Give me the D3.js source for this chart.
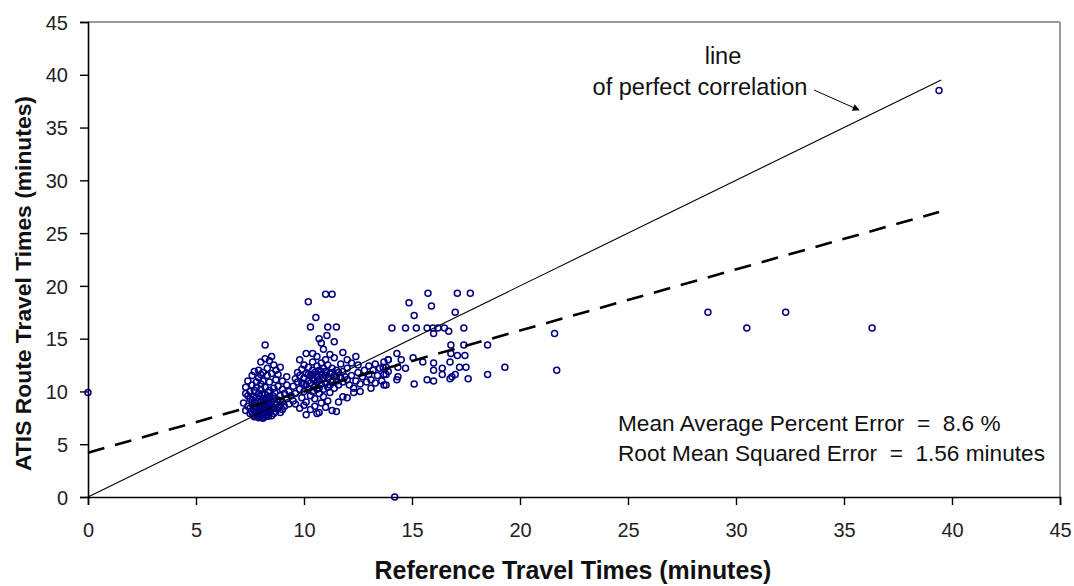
<!DOCTYPE html>
<html><head><meta charset="utf-8">
<script src="https://cdn.jsdelivr.net/npm/d3@7"></script>
<style>
html,body{margin:0;padding:0;background:#fff;}
svg{display:block;}
text{font-family:"Liberation Sans",Arial,sans-serif;}
</style></head>
<body>
<svg id="chart" width="1074" height="586"></svg>
<script>
// ---- data ----
const xTicks = [0,5,10,15,20,25,30,35,40,45];
const yTicks = [0,5,10,15,20,25,30,35,40,45];
const xTitle = "Reference Travel Times (minutes)";
const yTitle = "ATIS Route Travel Times (minutes)";
const perfectLine = [[0,0],[39.5,39.5]];
const fitLine = [[0,4.2],[39.4,27.0]];
const statLines = ["Mean Average Percent Error  =  8.6 %", "Root Mean Squared Error  =  1.56 minutes"];
const annotLines = ["line", "of perfect correlation"];

// cluster around 7-9.5 minutes
const clusterA = [
[7.3,8.2],[7.4,8.6],[7.5,7.9],[7.5,8.4],[7.6,8.0],[7.6,8.8],[7.6,9.2],[7.7,7.6],[7.7,8.3],[7.7,9.0],
[7.8,7.8],[7.8,8.5],[7.8,9.4],[7.9,7.5],[7.9,8.1],[7.9,8.7],[7.9,9.8],[8.0,7.7],[8.0,8.3],[8.0,9.0],
[8.0,10.2],[8.1,7.9],[8.1,8.6],[8.1,9.3],[8.2,7.6],[8.2,8.2],[8.2,8.9],[8.2,9.7],[8.3,7.8],[8.3,8.4],
[8.3,9.1],[8.4,8.0],[8.4,8.7],[8.4,9.5],[8.5,7.7],[8.5,8.3],[8.5,9.0],[8.6,8.5],[8.6,9.3],[8.7,8.1],
[8.7,8.8],[8.8,8.4],[8.8,9.2],[8.9,8.0],[8.9,8.7],[9.0,8.3],[9.0,9.0],[9.1,8.6],[9.2,9.3],[7.4,9.6],
[7.5,10.0],[7.3,10.4],[7.6,10.6],[7.7,10.1],[7.8,10.9],[7.9,11.3],[8.0,10.7],[8.1,11.0],[8.1,11.8],[8.2,10.4],
[8.3,11.5],[8.3,12.2],[8.4,10.1],[8.4,10.9],[8.5,11.7],[8.6,10.3],[8.6,12.5],[8.7,11.1],[8.8,10.5],[8.8,11.6],
[8.9,9.6],[9.0,10.2],[9.0,11.0],[9.1,9.8],[9.2,10.6],[9.3,10.0],[7.9,12.0],[8.0,12.8],[8.2,13.1],[8.4,12.9],
[8.2,14.4],[7.2,8.9],[7.4,11.0],[7.6,11.5],[8.5,13.3],[7.75,8.05],[7.85,8.25],[7.95,7.85],[8.05,8.15],[8.15,8.45],
[8.25,7.95],[7.85,7.65],[8.05,7.55],[8.35,7.65],[7.65,7.75],[8.1,7.45],[7.95,8.55],[8.25,8.65],[7.7,8.6],[8.45,8.15],
[8.6,7.9],[8.9,9.1],[9.3,8.8],[7.5,9.3],[7.3,9.8],[8.7,12.0],[8.0,11.6],[7.7,11.9],[8.9,12.3],[9.2,11.4],
[7.8,8.15],[8.0,7.95],[8.2,8.05],[7.9,8.35],[8.1,8.25],[8.3,8.15],[7.7,8.45],[8.05,8.75],[8.35,8.85],[7.85,9.05],
[8.15,9.15],[7.65,9.45],[8.45,9.25],[7.95,9.55],[8.25,9.4],[8.55,9.6],[8.65,9.9],[8.35,9.9],[8.05,9.75],[7.8,10.4]
];
// cluster around 9.5-12 minutes
const clusterB = [
[9.5,10.5],[9.6,11.2],[9.6,9.8],[9.7,10.9],[9.7,11.8],[9.8,10.2],[9.8,11.5],[9.9,9.4],[9.9,10.8],[9.9,12.1],
[10.0,10.0],[10.0,11.3],[10.0,12.5],[10.1,9.0],[10.1,10.6],[10.1,11.7],[10.2,10.2],[10.2,11.0],[10.2,12.3],[10.3,9.6],
[10.3,10.8],[10.3,11.5],[10.4,10.0],[10.4,11.2],[10.4,12.0],[10.4,12.8],[10.5,9.3],[10.5,10.5],[10.5,11.8],[10.6,10.9],
[10.6,11.4],[10.6,12.4],[10.7,9.8],[10.7,10.3],[10.7,11.1],[10.7,12.0],[10.8,10.7],[10.8,11.6],[10.8,12.7],[10.9,9.5],
[10.9,10.2],[10.9,11.3],[10.9,12.2],[11.0,10.8],[11.0,11.9],[11.0,13.0],[11.1,10.4],[11.1,11.2],[11.1,12.5],[11.2,9.9],
[11.2,11.7],[11.3,10.9],[11.3,12.2],[11.4,10.3],[11.4,11.5],[11.4,13.2],[11.5,11.0],[11.5,12.0],[11.6,10.6],[11.6,11.8],
[11.7,11.3],[11.7,12.6],[11.8,10.9],[11.8,11.9],[11.9,11.4],[12.0,11.1],[12.0,12.2],
[9.6,8.8],[9.8,8.4],[10.0,8.7],[10.1,7.8],[10.3,8.3],[10.5,8.6],[10.6,7.9],[10.7,8.0],[10.8,8.9],[11.0,8.5],
[11.1,9.1],[11.3,8.2],[11.5,8.1],[11.6,9.0],[11.8,9.5],[9.4,9.6],[9.5,9.1],
[10.1,13.6],[10.4,13.6],[11.8,13.7],[12.4,13.3],[12.0,13.0],[10.3,16.1],[11.1,16.1],[11.5,16.1],[11.06,15.3],[10.8,14.6],
[11.4,14.7],[10.7,15.0],[10.55,17.0],[10.2,18.5],[11.0,19.2],[11.3,19.2],[10.6,13.3],[11.2,13.5],[9.8,13.0],[10.9,14.0],
[10.2,11.6],[10.5,11.1],[11.0,11.5],[11.2,10.6],[10.6,10.2],[10.0,10.7],[11.3,11.8],[10.4,11.6],[10.8,11.9],[11.5,11.4]
];
// cluster around 12-14 minutes
const clusterC = [
[12.1,10.6],[12.2,11.5],[12.3,10.3],[12.4,11.0],[12.5,11.8],[12.6,10.7],[12.7,11.4],[12.8,12.0],[12.9,10.9],[13.0,11.6],
[13.0,12.4],[13.1,11.1],[13.2,12.0],[13.3,10.8],[13.3,12.6],[13.4,11.5],[13.5,12.2],[13.6,11.0],[13.7,12.8],[13.7,11.6],
[13.8,10.6],[13.8,12.3],[13.9,11.9],[13.9,13.0],[12.0,9.4],[12.3,9.9],[12.6,10.0],[13.1,10.3],[12.5,12.5],[12.2,12.7]
];
// 14-20 minutes
const clusterD = [
[15.74,19.3],[17.1,19.3],[17.7,19.3],[14.86,18.4],[15.9,18.1],[15.1,17.2],[17.0,17.5],[14.07,16.0],[14.7,16.0],[15.2,16.0],
[15.7,16.0],[15.97,16.0],[16.2,16.0],[16.5,16.0],[17.4,16.0],[16.0,15.5],[16.7,15.7],[16.8,14.4],[17.4,14.4],[18.5,14.4],
[14.3,13.6],[16.8,13.6],[17.1,13.4],[17.45,13.4],[13.9,13.0],[14.5,13.0],[15.05,13.2],[15.5,12.8],[16.0,12.7],[16.76,12.8],
[13.66,12.3],[14.35,12.3],[14.7,12.2],[16.0,12.0],[16.4,12.2],[17.2,12.3],[17.5,12.3],[19.3,12.3],[13.8,11.6],[14.35,11.4],
[15.7,11.1],[16.0,11.0],[16.4,11.6],[16.85,11.4],[17.0,11.6],[17.6,11.2],[18.5,11.6],[13.7,10.6],[14.3,11.1],[15.1,10.7],
[16.76,11.2],[21.6,15.5],[21.7,12.0]
];
// isolated points
const outliers = [[0,9.9],[14.2,0],[28.7,17.5],[30.5,16.0],[32.3,17.5],[36.3,16.0],[39.4,38.5]];

// ---- chart ----
const svg = d3.select("#chart");
const x = d3.scaleLinear().domain([0,45]).range([88,1060]);
const y = d3.scaleLinear().domain([0,45]).range([497,22]);

// fit a text element's font size so its rendered width equals target
function fitWidth(sel, target){
  const node = sel.node();
  const fs = parseFloat(sel.style("font-size"));
  const w = node.getComputedTextLength();
  if (w > 0) sel.style("font-size", (fs*target/w).toFixed(2)+"px");
  return sel;
}

// frame (top/right grey)
svg.append("line").attr("x1",x(0)).attr("x2",x(45)).attr("y1",y(45)).attr("y2",y(45))
  .attr("stroke","#9a9a9a").attr("stroke-width",2);
svg.append("line").attr("x1",x(45)).attr("x2",x(45)).attr("y1",y(45)).attr("y2",y(0))
  .attr("stroke","#9a9a9a").attr("stroke-width",2);

const xAxis = svg.append("g").attr("transform",`translate(0,${y(0)})`)
  .call(d3.axisBottom(x).tickValues(xTicks).tickSize(8).tickPadding(18).tickFormat(d3.format("d")));
const yAxis = svg.append("g").attr("transform",`translate(${x(0)},0)`)
  .call(d3.axisLeft(y).tickValues(yTicks).tickSize(8).tickPadding(12).tickFormat(d3.format("d")));
[xAxis,yAxis].forEach(g=>{
  g.select(".domain").attr("stroke","#000").attr("stroke-width",1.6);
  g.selectAll(".tick line").attr("stroke","#000").attr("stroke-width",1.4);
  g.selectAll(".tick text").attr("fill","#222").style("font-size","20px")
   .style("font-family","'Liberation Sans',Arial,sans-serif");
});
yAxis.selectAll(".tick text").attr("dy","0.36em");

// points
const allPts = [].concat(clusterA, clusterB, clusterC, clusterD, outliers);
svg.append("g").selectAll("circle").data(allPts).join("circle")
  .attr("cx",d=>x(d[0])).attr("cy",d=>y(d[1])).attr("r",3)
  .attr("fill","none").attr("stroke","#000080").attr("stroke-width",1.5);

// lines
const lineGen = d3.line().x(d=>x(d[0])).y(d=>y(d[1]));
svg.append("path").datum(perfectLine).attr("d",lineGen)
  .attr("stroke","#000").attr("stroke-width",1.1).attr("fill","none");
svg.append("path").datum(fitLine).attr("d",lineGen)
  .attr("stroke","#000").attr("stroke-width",2.6).attr("stroke-dasharray","17,11").attr("fill","none");

// annotation
const ann = svg.append("g").attr("fill","#111");
const a1 = ann.append("text").attr("x",723).attr("y",64).attr("text-anchor","middle").style("font-size","19px").text(annotLines[0]);
const a2 = ann.append("text").attr("x",700).attr("y",95).attr("text-anchor","middle").style("font-size","19px").text(annotLines[1]);
fitWidth(a2, 215);
a1.style("font-size", a2.style("font-size"));
svg.append("defs").append("marker").attr("id","ah").attr("viewBox","0 0 10 10")
  .attr("refX",9).attr("refY",5).attr("markerWidth",9).attr("markerHeight",7).attr("orient","auto")
  .attr("markerUnits","userSpaceOnUse")
  .append("path").attr("d","M0,0L10,5L0,10z").attr("fill","#000");
svg.append("line").attr("x1",814).attr("y1",90).attr("x2",859).attr("y2",110)
  .attr("stroke","#000").attr("stroke-width",1).attr("marker-end","url(#ah)");

// stats text
const st = svg.append("g").attr("fill","#111");
const s1 = st.append("text").attr("x",618).attr("y",431).attr("xml:space","preserve").style("font-size","20px").text(statLines[0]);
const s2 = st.append("text").attr("x",618).attr("y",461).attr("xml:space","preserve").style("font-size","20px").text(statLines[1]);
fitWidth(s2, 427);
s1.style("font-size", s2.style("font-size"));

// axis titles
const xt = svg.append("text").attr("x",573).attr("y",579).attr("text-anchor","middle")
  .style("font-weight","bold").style("font-size","21px").attr("fill","#111").text(xTitle);
fitWidth(xt, 397);
const yt = svg.append("text").attr("transform",`translate(31,${(y(0)+y(45))/2+24}) rotate(-90)`)
  .attr("text-anchor","middle").style("font-weight","bold").style("font-size","21px").attr("fill","#111").text(yTitle);
fitWidth(yt, 375);
</script>
</body></html>
